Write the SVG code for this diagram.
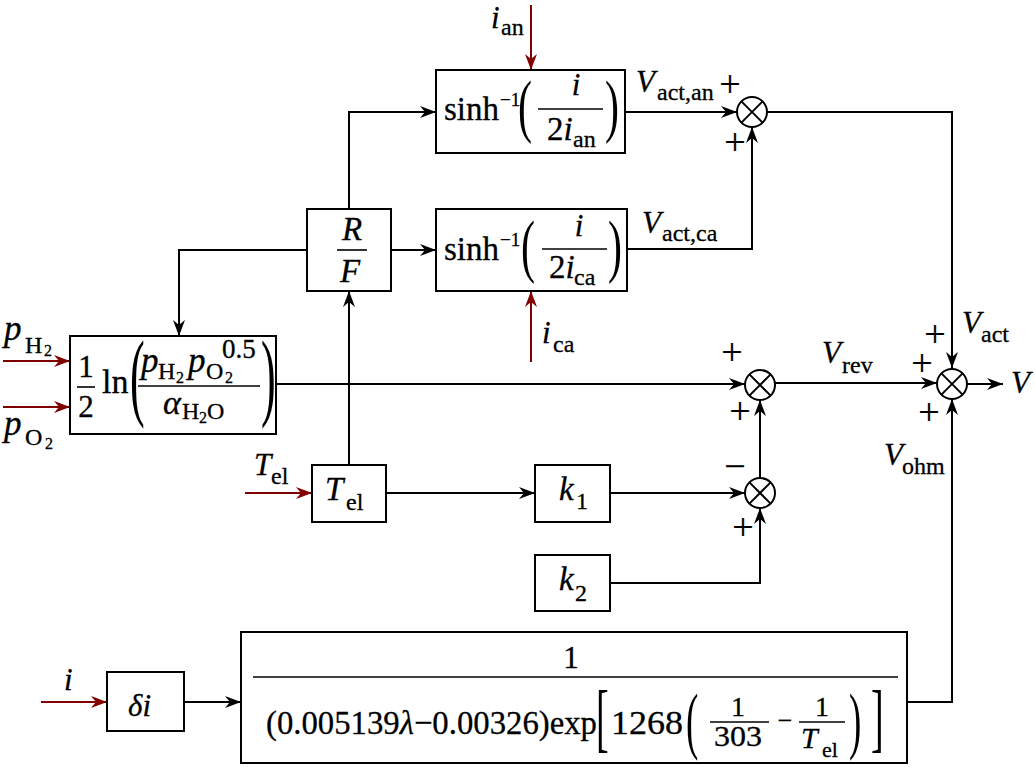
<svg xmlns="http://www.w3.org/2000/svg" width="1035" height="767" viewBox="0 0 1035 767">
<defs>
<style>
.box{fill:#fff;stroke:#000;stroke-width:2}
.ln{fill:none;stroke:#000;stroke-width:2}
.rd{fill:none;stroke:#800000;stroke-width:2}
.bar{stroke:#000;stroke-width:1.6}
text{font-family:"Liberation Serif","Times New Roman",serif;fill:#000;stroke:#000;stroke-width:0.3}
.it{font-style:italic}
.m{font-size:33px}
.l{font-size:31px}
.s{font-size:24px}
.ss{font-size:16px}
.c{text-anchor:middle}
.dl{stroke-width:0}
.pm{font-size:38px;text-anchor:middle;stroke-width:0.2}
</style>
<marker id="ab" viewBox="0 0 16 12" refX="16" refY="6" markerWidth="16" markerHeight="12" orient="auto" markerUnits="userSpaceOnUse"><path d="M0,0 L16,6 L0,12 L5,6 Z" fill="#000"/></marker>
<marker id="ar" viewBox="0 0 16 12" refX="16" refY="6" markerWidth="16" markerHeight="12" orient="auto" markerUnits="userSpaceOnUse"><path d="M0,0 L16,6 L0,12 L5,6 Z" fill="#800000"/></marker>
<g id="sumsym"><circle r="15" fill="#fff" stroke="#000" stroke-width="2"/><path d="M-10.6,-10.6 L10.6,10.6 M-10.6,10.6 L10.6,-10.6" stroke="#000" stroke-width="2"/></g>
</defs>
<rect width="1035" height="767" fill="#fff"/>

<g id="connectors">
<path class="rd" d="M531,5 V70" marker-end="url(#ar)"/>
<path class="rd" d="M531,362 V291" marker-end="url(#ar)"/>
<path class="rd" d="M3,361 H70" marker-end="url(#ar)"/>
<path class="rd" d="M3,407 H70" marker-end="url(#ar)"/>
<path class="rd" d="M245,493 H312" marker-end="url(#ar)"/>
<path class="rd" d="M41,702 H107" marker-end="url(#ar)"/>
<path class="ln" d="M349,209 V112 H436" marker-end="url(#ab)"/>
<path class="ln" d="M391,250 H436" marker-end="url(#ab)"/>
<path class="ln" d="M307,250 H179 V336" marker-end="url(#ab)"/>
<path class="ln" d="M349,464 V291" marker-end="url(#ab)"/>
<path class="ln" d="M625,112 H737" marker-end="url(#ab)"/>
<path class="ln" d="M627,249 H752 V127" marker-end="url(#ab)"/>
<path class="ln" d="M767,112 H952 V368" marker-end="url(#ab)"/>
<path class="ln" d="M276,384 H745" marker-end="url(#ab)"/>
<path class="ln" d="M775,383 H937" marker-end="url(#ab)"/>
<path class="ln" d="M967,384 H1003" marker-end="url(#ab)"/>
<path class="ln" d="M386,493 H535" marker-end="url(#ab)"/>
<path class="ln" d="M610,493 H745" marker-end="url(#ab)"/>
<path class="ln" d="M760,478 V400" marker-end="url(#ab)"/>
<path class="ln" d="M610,583 H760 V508" marker-end="url(#ab)"/>
<path class="ln" d="M907,702 H952 V399" marker-end="url(#ab)"/>
<path class="ln" d="M184,702 H241" marker-end="url(#ab)"/>
</g>

<g id="sum-an"><use href="#sumsym" x="752" y="112"/>
<text class="pm" x="730" y="97">+</text><text class="pm" x="735" y="155">+</text></g>
<g id="sum-rev"><use href="#sumsym" x="760" y="385"/>
<text class="pm" x="732" y="365">+</text><text class="pm" x="740" y="424">+</text></g>
<g id="sum-lin"><use href="#sumsym" x="760" y="493"/>
<text class="pm" x="735" y="479">−</text><text class="pm" x="743" y="540">+</text></g>
<g id="sum-v"><use href="#sumsym" x="952" y="384"/>
<text class="pm" x="935" y="347">+</text><text class="pm" x="922" y="376">+</text><text class="pm" x="929" y="425">+</text></g>

<g id="sinh-an">
<rect class="box" x="436" y="70" width="189" height="83"/>
<text class="m" x="444" y="120">sinh</text>
<text font-size="19" x="500" y="106">−1</text>
<text class="dl" x="0" y="0" font-size="70" transform="translate(518,129) scale(0.6,1)">(</text>
<text class="l it c" x="576" y="95">i</text>
<line class="bar" x1="538" y1="109" x2="603" y2="109"/>
<text class="m" x="547" y="140">2<tspan class="it">i</tspan></text>
<text class="s" x="573" y="147">an</text>
<text class="dl" x="0" y="0" font-size="70" transform="translate(605,129) scale(0.6,1)">)</text>
</g>

<g id="sinh-ca">
<rect class="box" x="436" y="209" width="191" height="82"/>
<text class="m" x="444" y="260">sinh</text>
<text font-size="19" x="500" y="246">−1</text>
<text class="dl" x="0" y="0" font-size="70" transform="translate(521,269) scale(0.6,1)">(</text>
<text class="l it c" x="579" y="236">i</text>
<line class="bar" x1="542" y1="249" x2="607" y2="249"/>
<text class="m" x="549" y="278">2<tspan class="it">i</tspan></text>
<text class="s" x="574" y="285">ca</text>
<text class="dl" x="0" y="0" font-size="70" transform="translate(608,269) scale(0.6,1)">)</text>
</g>

<g id="rf">
<rect class="box" x="307" y="209" width="84" height="82"/>
<text class="m it c" x="352" y="240">R</text>
<line class="bar" x1="337" y1="250" x2="367" y2="250"/>
<text class="m it c" x="350" y="282">F</text>
</g>

<g id="ln-box">
<rect class="box" x="70" y="336" width="206" height="98"/>
<text class="l c" x="86" y="377">1</text>
<line class="bar" x1="77" y1="387" x2="95" y2="387"/>
<text class="l c" x="86" y="417">2</text>
<text font-size="34" x="102" y="393">ln</text>
<text class="dl" x="0" y="0" font-size="98" transform="translate(130,408) scale(0.45,1)">(</text>
<text font-size="35" class="it" x="141" y="372">p</text>
<text class="s" x="158" y="379">H</text>
<text class="ss" x="176" y="383">2</text>
<text font-size="35" class="it" x="188" y="372">p</text>
<text class="s" x="206" y="379">O</text>
<text class="ss" x="225" y="383">2</text>
<text font-size="27" x="222" y="358">0.5</text>
<line class="bar" x1="138" y1="386" x2="260" y2="386"/>
<text font-size="34" class="it" x="163" y="414">α</text>
<text class="s" x="182" y="419">H</text>
<text class="ss" x="199" y="423">2</text>
<text class="s" x="207" y="419">O</text>
<text class="dl" x="0" y="0" font-size="98" transform="translate(261,408) scale(0.45,1)">)</text>
</g>

<g id="tel-box">
<rect class="box" x="312" y="465" width="74" height="57"/>
<text class="m it" x="325" y="500">T</text>
<text class="s" x="346" y="510">el</text>
</g>

<g id="k1-box">
<rect class="box" x="535" y="465" width="75" height="57"/>
<text class="m it" x="559" y="500">k</text>
<text class="s" x="576" y="509">1</text>
</g>

<g id="k2-box">
<rect class="box" x="535" y="555" width="75" height="56"/>
<text class="m it" x="559" y="590">k</text>
<text class="s" x="575" y="601">2</text>
</g>

<g id="di-box">
<rect class="box" x="107" y="672" width="77" height="59"/>
<text class="l it" x="128" y="716">δi</text>
</g>

<g id="ohm-box">
<rect class="box" x="241" y="632" width="666" height="131"/>
<text class="l c" x="571" y="668">1</text>
<line class="bar" x1="253" y1="677" x2="898" y2="677"/>
<text font-size="34" x="266" y="734" textLength="331" lengthAdjust="spacingAndGlyphs">(0.005139<tspan class="it">λ</tspan>−0.00326)exp</text>
<text class="dl" x="0" y="0" font-size="76" transform="translate(596,743) scale(0.5,1)">[</text>
<text font-size="34" x="611" y="734" textLength="72" lengthAdjust="spacingAndGlyphs">1268</text>
<text class="dl" x="0" y="0" font-size="74" transform="translate(686,745) scale(0.5,1)">(</text>
<text font-size="28" class="c" x="738" y="716">1</text>
<line class="bar" x1="710" y1="722" x2="769" y2="722"/>
<text font-size="30" x="714" y="746" textLength="48" lengthAdjust="spacingAndGlyphs">303</text>
<text font-size="26" class="c" x="785" y="729">−</text>
<text font-size="28" class="c" x="822" y="716">1</text>
<line class="bar" x1="799" y1="722" x2="845" y2="722"/>
<text font-size="30" class="it" x="801" y="748">T</text>
<text font-size="22" x="822" y="757">el</text>
<text class="dl" x="0" y="0" font-size="74" transform="translate(849,745) scale(0.5,1)">)</text>
<text class="dl" x="0" y="0" font-size="76" transform="translate(871,743) scale(0.5,1)">]</text>
</g>

<g id="labels">
<text class="l it" x="491" y="28">i</text><text class="s" x="501" y="35">an</text>
<text class="l it" x="542" y="343">i</text><text class="s" x="553" y="352">ca</text>
<text class="l it" x="636" y="92">V</text><text class="s" x="657" y="100">act,an</text>
<text class="l it" x="642" y="233">V</text><text class="s" x="662" y="241">act,ca</text>
<text font-size="35" class="it" x="4" y="340">p</text><text class="s" x="25" y="353">H</text><text class="ss" x="44" y="356">2</text>
<text font-size="35" class="it" x="4" y="435">p</text><text class="s" x="25" y="445">O</text><text class="ss" x="45" y="449">2</text>
<text class="l it" x="254" y="475">T</text><text class="s" x="271" y="484">el</text>
<text class="l it" x="64" y="690">i</text>
<text class="l it" x="822" y="363">V</text><text class="s" x="842" y="373">rev</text>
<text class="l it" x="962" y="333">V</text><text class="s" x="981" y="342">act</text>
<text class="l it" x="884" y="465">V</text><text class="s" x="902" y="474">ohm</text>
<text class="l it" x="1011" y="393">V</text>
</g>
</svg>
